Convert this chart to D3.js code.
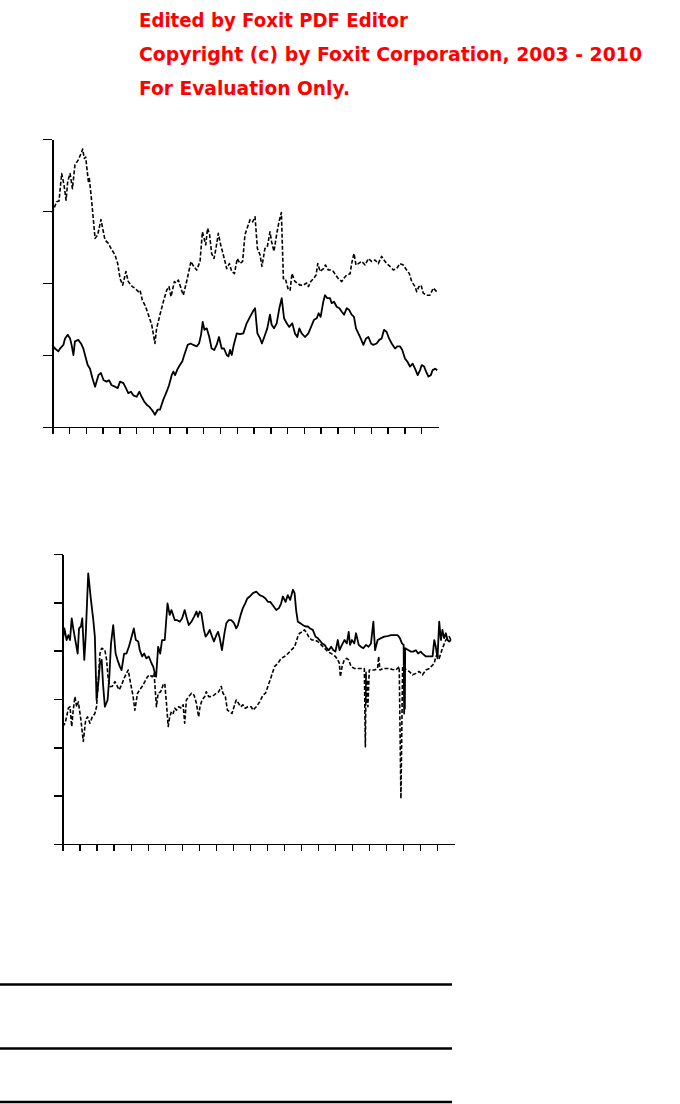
<!DOCTYPE html>
<html>
<head>
<meta charset="utf-8">
<script src="https://cdn.jsdelivr.net/npm/d3@7"></script>
<style>
  body { margin: 0; background: #fff; }
  svg { display: block; }
  .axis path, .axis line { stroke: #000; stroke-width: 1.5; shape-rendering: crispEdges; }
</style>
</head>
<body>
<svg id="chart" width="680" height="1104"></svg>
<script>
// watermark lines
const watermark = [
  "Edited by Foxit PDF Editor",
  "Copyright (c) by Foxit Corporation, 2003 - 2010",
  "For Evaluation Only."
];
const watermarkWidths = [269, 503, 211];

// axis ticks (no labels in the source)
const xTicks = d3.range(0, 23);
const topYTicks = [0, 1, 2, 3, 4];
const bottomYTicks = [0, 1, 2, 3, 4, 5, 6];

// upper panel, [t, value]
const topDashed = [[0,2.97],[0.06,3.01],[0.26,3.13],[0.40,3.14],[0.56,3.52],[0.70,3.36],[0.82,3.15],[0.92,3.41],[1.06,3.52],[1.20,3.31],[1.35,3.64],[1.55,3.71],[1.75,3.82],[1.81,3.86],[1.91,3.73],[1.99,3.75],[2.15,3.41],[2.21,3.45],[2.35,3.13],[2.55,2.62],[2.71,2.67],[2.90,2.88],[3.14,2.60],[3.34,2.55],[3.50,2.48],[3.74,2.39],[3.90,2.27],[4.04,2.06],[4.20,1.97],[4.39,2.16],[4.53,2.02],[4.77,1.95],[4.93,1.93],[5.13,1.88],[5.23,1.90],[5.37,1.76],[5.53,1.69],[5.73,1.56],[5.93,1.42],[6.12,1.16],[6.22,1.37],[6.42,1.56],[6.62,1.74],[6.82,1.90],[6.96,1.95],[7.08,1.81],[7.28,2.02],[7.38,2.00],[7.52,2.04],[7.71,1.90],[7.81,1.83],[8.01,2.02],[8.27,2.30],[8.43,2.23],[8.61,2.18],[8.81,2.30],[8.95,2.71],[9.05,2.62],[9.15,2.53],[9.26,2.76],[9.38,2.67],[9.50,2.41],[9.64,2.34],[9.76,2.48],[9.90,2.69],[10.04,2.53],[10.20,2.39],[10.40,2.20],[10.56,2.27],[10.70,2.16],[10.86,2.13],[11.03,2.34],[11.19,2.27],[11.35,2.30],[11.49,2.67],[11.59,2.74],[11.79,2.88],[11.95,2.85],[12.09,2.92],[12.23,2.48],[12.39,2.39],[12.50,2.23],[12.68,2.48],[12.82,2.50],[12.98,2.71],[13.08,2.57],[13.22,2.44],[13.34,2.62],[13.50,2.83],[13.66,2.98],[13.78,2.06],[13.90,2.06],[14.08,1.90],[14.18,1.90],[14.29,2.13],[14.47,2.02],[14.61,2.00],[14.77,1.97],[14.97,1.97],[15.17,2.00],[15.27,1.95],[15.41,2.02],[15.57,2.06],[15.73,2.11],[15.83,2.27],[15.97,2.16],[16.17,2.20],[16.29,2.25],[16.46,2.18],[16.60,2.18],[16.76,2.16],[16.90,2.11],[17.06,2.06],[17.26,2.02],[17.36,2.06],[17.56,2.11],[17.76,2.13],[17.85,2.27],[17.99,2.41],[18.11,2.25],[18.25,2.27],[18.45,2.30],[18.65,2.25],[18.85,2.34],[19.04,2.30],[19.24,2.32],[19.44,2.27],[19.64,2.37],[19.78,2.32],[19.94,2.27],[20.14,2.23],[20.34,2.18],[20.54,2.20],[20.73,2.27],[20.93,2.25],[21.13,2.18],[21.29,2.13],[21.43,2.02],[21.63,1.95],[21.73,1.88],[21.86,1.95],[21.99,1.97],[22.12,1.86],[22.32,1.83],[22.52,1.83],[22.72,1.93],[22.92,1.88]];

const topSolid = [[0,1.14],[0.16,1.09],[0.36,1.05],[0.46,1.09],[0.66,1.14],[0.76,1.23],[0.92,1.28],[1.06,1.23],[1.15,1.14],[1.26,1.00],[1.35,1.19],[1.55,1.21],[1.71,1.16],[1.85,1.09],[1.95,1.00],[2.11,0.86],[2.25,0.81],[2.39,0.68],[2.55,0.56],[2.75,0.72],[2.90,0.75],[3.06,0.65],[3.24,0.63],[3.38,0.65],[3.54,0.58],[3.74,0.56],[3.90,0.54],[4.04,0.63],[4.24,0.61],[4.39,0.54],[4.53,0.47],[4.69,0.49],[4.83,0.44],[5.03,0.42],[5.19,0.49],[5.33,0.42],[5.49,0.35],[5.63,0.31],[5.79,0.28],[5.93,0.24],[6.02,0.21],[6.12,0.17],[6.28,0.24],[6.42,0.24],[6.62,0.38],[6.82,0.49],[6.96,0.58],[7.12,0.72],[7.22,0.77],[7.32,0.72],[7.48,0.81],[7.61,0.86],[7.75,0.91],[7.87,1.00],[8.07,1.14],[8.25,1.16],[8.41,1.14],[8.61,1.12],[8.75,1.16],[8.87,1.28],[8.97,1.46],[9.07,1.35],[9.21,1.37],[9.36,1.25],[9.50,1.09],[9.66,1.07],[9.80,1.14],[9.94,1.25],[10.10,1.09],[10.24,1.09],[10.40,1.00],[10.50,0.98],[10.60,1.07],[10.70,1.00],[10.82,1.14],[11.00,1.30],[11.19,1.29],[11.39,1.30],[11.59,1.44],[11.79,1.53],[11.95,1.60],[12.09,1.65],[12.23,1.30],[12.39,1.23],[12.50,1.16],[12.64,1.25],[12.82,1.37],[12.98,1.56],[13.08,1.42],[13.22,1.37],[13.38,1.44],[13.54,1.65],[13.68,1.79],[13.82,1.51],[13.98,1.44],[14.13,1.39],[14.31,1.44],[14.47,1.30],[14.61,1.25],[14.73,1.37],[14.87,1.30],[15.07,1.25],[15.27,1.30],[15.43,1.39],[15.61,1.49],[15.77,1.51],[15.88,1.58],[16.00,1.53],[16.16,1.74],[16.26,1.83],[16.40,1.79],[16.56,1.79],[16.66,1.72],[16.80,1.74],[16.96,1.67],[17.12,1.65],[17.26,1.60],[17.40,1.56],[17.56,1.65],[17.69,1.63],[17.85,1.56],[17.99,1.53],[18.11,1.37],[18.25,1.30],[18.39,1.23],[18.55,1.14],[18.71,1.23],[18.85,1.25],[19.01,1.16],[19.14,1.14],[19.34,1.16],[19.50,1.21],[19.64,1.23],[19.78,1.35],[19.94,1.32],[20.08,1.23],[20.24,1.16],[20.44,1.09],[20.57,1.12],[20.73,1.12],[20.87,1.07],[21.03,0.95],[21.17,0.91],[21.33,0.84],[21.49,0.88],[21.63,0.81],[21.79,0.72],[21.93,0.79],[22.03,0.86],[22.17,0.84],[22.29,0.77],[22.43,0.70],[22.57,0.72],[22.68,0.79],[22.82,0.81],[22.96,0.79]];

// lower panel, [t, value]
const bottomSolid = [[0,4.19],[0.10,4.46],[0.23,4.22],[0.33,4.32],[0.43,4.22],[0.53,4.67],[0.62,4.46],[0.72,4.26],[0.88,3.94],[0.96,4.46],[1.07,4.50],[1.15,4.67],[1.27,3.81],[1.35,4.29],[1.50,5.60],[1.66,5.05],[1.80,4.63],[1.89,4.29],[1.99,2.98],[2.09,3.32],[2.19,3.74],[2.29,3.81],[2.38,3.26],[2.48,2.84],[2.64,2.98],[2.74,3.46],[2.84,4.15],[2.97,4.53],[3.11,3.94],[3.22,3.81],[3.36,3.67],[3.46,3.60],[3.61,3.94],[3.75,3.94],[3.89,4.08],[4.05,4.29],[4.18,4.46],[4.30,4.22],[4.44,4.19],[4.53,4.01],[4.67,3.88],[4.79,3.94],[4.92,3.84],[5.06,3.88],[5.22,3.74],[5.32,3.67],[5.42,3.53],[5.49,3.46],[5.61,4.08],[5.73,3.94],[5.84,4.22],[6.00,4.22],[6.16,4.98],[6.29,4.74],[6.39,4.84],[6.49,4.74],[6.59,4.63],[6.74,4.63],[6.88,4.60],[7.02,4.67],[7.17,4.84],[7.27,4.70],[7.41,4.53],[7.57,4.60],[7.72,4.70],[7.86,4.81],[7.95,4.70],[8.05,4.81],[8.15,4.77],[8.30,4.43],[8.40,4.29],[8.54,4.36],[8.64,4.43],[8.78,4.29],[8.89,4.19],[9.03,4.32],[9.13,4.39],[9.23,4.26],[9.36,4.01],[9.52,4.39],[9.62,4.57],[9.75,4.63],[9.91,4.63],[10.07,4.57],[10.20,4.46],[10.30,4.53],[10.46,4.74],[10.59,4.88],[10.73,4.98],[10.85,5.08],[10.99,5.12],[11.18,5.19],[11.38,5.22],[11.58,5.15],[11.77,5.12],[11.92,5.08],[12.06,5.01],[12.20,5.01],[12.35,4.94],[12.55,4.84],[12.71,4.88],[12.84,4.98],[12.94,5.12],[13.10,5.01],[13.23,5.15],[13.37,5.05],[13.53,5.26],[13.63,5.19],[13.72,4.84],[13.82,4.60],[13.96,4.57],[14.11,4.53],[14.27,4.50],[14.41,4.50],[14.54,4.46],[14.70,4.43],[14.86,4.29],[14.99,4.26],[15.09,4.22],[15.25,4.15],[15.39,4.12],[15.52,4.05],[15.64,4.01],[15.78,4.08],[15.91,4.01],[16.03,3.98],[16.17,4.22],[16.27,4.01],[16.36,4.08],[16.46,4.15],[16.56,4.22],[16.70,4.15],[16.81,4.39],[16.89,4.12],[17.00,4.22],[17.14,4.15],[17.24,4.36],[17.40,4.12],[17.53,4.08],[17.67,4.05],[17.83,4.12],[17.98,4.08],[18.12,4.15],[18.26,4.60],[18.36,4.01],[18.51,4.22],[18.71,4.26],[18.90,4.29],[19.10,4.30],[19.29,4.32],[19.49,4.32],[19.69,4.32],[19.82,4.26],[19.94,4.15],[20.04,4.12],[20.07,2.70],[20.09,4.00],[20.11,2.80],[20.13,4.05],[20.33,4.01],[20.47,3.98],[20.60,3.98],[20.76,4.01],[20.89,3.94],[21.04,3.98],[21.15,3.94],[21.35,3.88],[21.55,3.88],[21.74,3.88],[21.84,4.22],[21.93,4.08],[22.03,3.84],[22.13,4.60],[22.23,4.22],[22.32,4.43],[22.42,4.26],[22.52,4.36],[22.62,4.22],[22.72,4.19],[22.82,4.22]];

const bottomDashed = [[0,2.43],[0.14,2.50],[0.23,2.63],[0.33,2.81],[0.43,2.84],[0.53,2.43],[0.62,2.77],[0.72,3.05],[0.82,2.84],[0.92,2.94],[1.07,2.57],[1.21,2.12],[1.35,2.57],[1.46,2.63],[1.60,2.50],[1.74,2.63],[1.89,2.70],[1.99,2.84],[2.09,3.39],[2.19,3.94],[2.29,4.05],[2.48,4.01],[2.58,3.81],[2.68,3.39],[2.78,3.26],[2.91,3.26],[3.07,3.36],[3.17,3.29],[3.32,3.19],[3.46,3.29],[3.61,3.43],[3.75,3.53],[3.85,3.60],[4.01,3.29],[4.14,3.05],[4.24,2.77],[4.40,3.12],[4.53,3.19],[4.67,3.26],[4.83,3.36],[4.98,3.46],[5.12,3.50],[5.26,3.46],[5.37,3.53],[5.51,2.84],[5.61,3.12],[5.76,3.15],[5.90,3.29],[6.00,3.32],[6.10,2.91],[6.20,2.43],[6.29,2.63],[6.39,2.74],[6.49,2.70],[6.59,2.81],[6.69,2.77],[6.82,2.84],[6.98,2.81],[7.08,2.88],[7.17,2.50],[7.27,2.98],[7.41,3.05],[7.57,3.12],[7.72,3.08],[7.86,2.91],[7.99,2.63],[8.07,2.84],[8.19,2.98],[8.35,3.05],[8.44,3.15],[8.58,3.05],[8.74,3.05],[8.89,3.08],[9.03,3.12],[9.17,3.15],[9.32,3.26],[9.42,3.12],[9.56,3.05],[9.68,2.77],[9.81,2.74],[9.95,2.70],[10.07,2.84],[10.20,2.98],[10.34,2.91],[10.46,2.84],[10.59,2.88],[10.73,2.81],[10.89,2.84],[11.08,2.84],[11.18,2.77],[11.38,2.84],[11.58,2.94],[11.77,3.08],[11.92,3.12],[12.06,3.26],[12.16,3.36],[12.32,3.53],[12.45,3.67],[12.65,3.74],[12.84,3.84],[13.04,3.88],[13.24,3.94],[13.43,4.01],[13.63,4.08],[13.82,4.29],[13.92,4.36],[14.08,4.39],[14.21,4.43],[14.35,4.36],[14.50,4.26],[14.66,4.22],[14.80,4.22],[14.99,4.19],[15.19,4.12],[15.39,4.05],[15.58,3.98],[15.78,3.94],[16.03,3.88],[16.17,3.81],[16.26,3.74],[16.32,3.46],[16.42,3.67],[16.55,3.81],[16.69,3.84],[16.81,3.81],[16.95,3.67],[17.15,3.63],[17.34,3.63],[17.54,3.63],[17.73,3.63],[17.79,2.01],[17.83,3.55],[17.86,2.90],[17.90,3.40],[17.94,2.84],[18.02,3.60],[18.12,3.60],[18.32,3.60],[18.51,3.63],[18.57,3.88],[18.65,3.60],[18.81,3.63],[19.00,3.63],[19.20,3.63],[19.39,3.61],[19.59,3.60],[19.78,3.67],[19.88,0.94],[19.98,3.67],[20.08,3.67],[20.18,3.60],[20.37,3.57],[20.57,3.50],[20.76,3.53],[20.96,3.57],[21.15,3.50],[21.35,3.60],[21.55,3.63],[21.74,3.70],[21.84,3.74],[21.93,3.88],[22.03,3.91],[22.13,3.84],[22.32,4.05],[22.52,4.22],[22.72,4.29],[22.82,4.22]];

// rule lines under the charts (table borders)
const rules = [0, 1, 2];

const svg = d3.select("#chart");

// red evaluation text
svg.append("g").selectAll("text")
  .data(watermark)
  .join("text")
  .attr("x", 139)
  .attr("y", (d, i) => 27 + i * 34)
  .attr("textLength", (d, i) => watermarkWidths[i])
  .attr("lengthAdjust", "spacingAndGlyphs")
  .attr("fill", "#ff0000")
  .attr("font-family", "DejaVu Sans, Verdana, sans-serif")
  .attr("font-weight", "bold")
  .attr("font-size", 19.5)
  .text(d => d);

function drawPanel(cfg) {
  let x = d3.scaleLinear().domain([0, 23]).range(cfg.xRange),
      y = d3.scaleLinear().domain(cfg.yDomain).range(cfg.yRange);

  let g = svg.append("g");

  g.append("g")
    .attr("class", "axis")
    .attr("transform", "translate(" + cfg.xRange[0] + ",0)")
    .call(d3.axisLeft(y).tickValues(cfg.yTicks).tickSize(9).tickSizeOuter(0).tickFormat(""));

  g.append("g")
    .attr("class", "axis")
    .attr("transform", "translate(0," + cfg.yRange[0] + ")")
    .call(d3.axisBottom(x).tickValues(xTicks).tickSize(7).tickSizeOuter(0).tickFormat(""));

  let line = d3.line()
    .x(d => x(d[0]))
    .y(d => y(d[1]));

  cfg.series.forEach(s => {
    g.append("path")
      .datum(s.data)
      .attr("fill", "none")
      .attr("stroke", "#000")
      .attr("stroke-width", s.dashed ? 1.6 : 1.8)
      .attr("stroke-dasharray", s.dashed ? "4,2" : null)
      .attr("stroke-linejoin", "round")
      .attr("d", line);
  });
}

drawPanel({
  xRange: [52.3, 438],
  yRange: [427, 139],
  yDomain: [0, 4],
  yTicks: topYTicks,
  series: [{data: topDashed, dashed: true}, {data: topSolid, dashed: false}]
});

drawPanel({
  xRange: [62.7, 454],
  yRange: [844, 554],
  yDomain: [0, 6],
  yTicks: bottomYTicks,
  series: [{data: bottomSolid, dashed: false}, {data: bottomDashed, dashed: true}]
});

// horizontal rules
const ruleY = d3.scaleLinear().domain([0, 1]).range([984.5, 1048.5]);
svg.append("g").selectAll("line")
  .data(rules)
  .join("line")
  .attr("x1", 0)
  .attr("x2", 452)
  .attr("y1", d => d === 2 ? 1102 : ruleY(d))
  .attr("y2", d => d === 2 ? 1102 : ruleY(d))
  .attr("stroke", "#000")
  .attr("stroke-width", 2.6);
</script>
</body>
</html>
